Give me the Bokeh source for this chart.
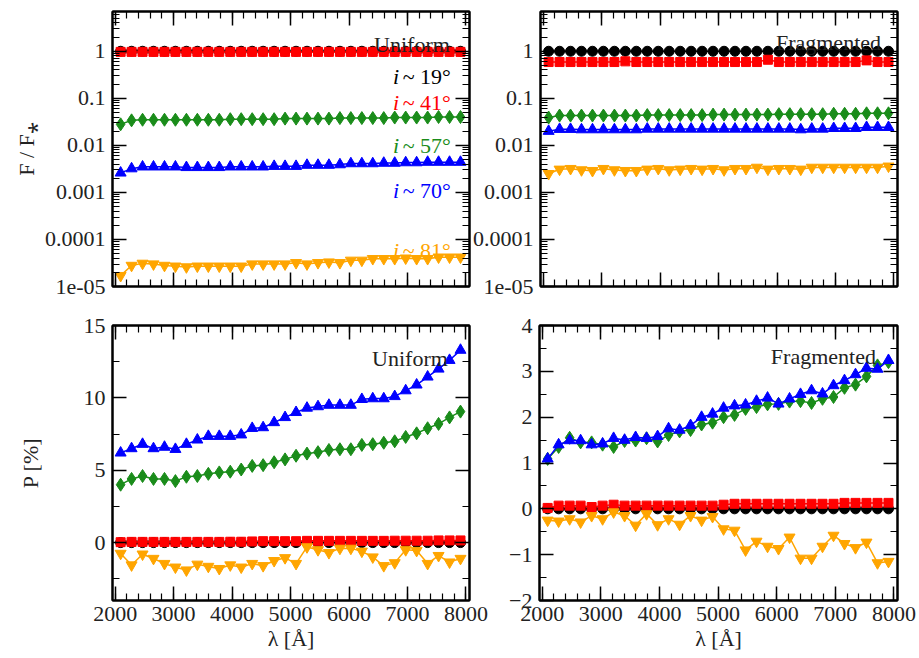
from bokeh.plotting import figure
from bokeh.models import (Range1d, LinearAxis, LogAxis, FixedTicker, SingleIntervalTicker,
                          CustomJSTickFormatter, Label)
from bokeh.layouts import column, row
from bokeh.embed import file_html
from bokeh.resources import INLINE

FONT = "Liberation Serif"

# ---------------- data ----------------
wavelength = [2094, 2281, 2469, 2656, 2844, 3031, 3219, 3406, 3594, 3781, 3969, 4156,
              4344, 4531, 4719, 4906, 5094, 5281, 5469, 5656, 5844, 6031, 6219, 6406,
              6594, 6781, 6969, 7156, 7344, 7531, 7719, 7906]

series_names = ["i~19", "i~41", "i~57", "i~70", "i~81"]
series_colors = ["#000000", "#ff0000", "#1a8c1a", "#0000ff", "#ffa500"]
series_markers = ["circle", "square", "diamond", "triangle", "inverted_triangle"]
angle_labels = ["~ 19°", "~ 41°", "~ 57°", "~ 70°", "~ 81°"]

# Uniform, F/F*
uni_flux_19 = [1.0] * 32
uni_flux_41 = [0.97] * 32
uni_flux_57 = [0.028, 0.034, 0.035, 0.035, 0.035, 0.035, 0.035, 0.035, 0.035, 0.035, 0.036, 0.036,
               0.036, 0.036, 0.036, 0.037, 0.037, 0.037, 0.037, 0.037, 0.038, 0.038, 0.038, 0.038,
               0.038, 0.039, 0.039, 0.039, 0.039, 0.040, 0.040, 0.040]
uni_flux_70 = [0.0026, 0.0032, 0.0035, 0.0035, 0.0035, 0.0035, 0.0034, 0.0034, 0.0034, 0.0034, 0.0035, 0.0035,
               0.0035, 0.0035, 0.0036, 0.0036, 0.0036, 0.0038, 0.0038, 0.0038, 0.0039, 0.0041, 0.0041, 0.0041,
               0.0042, 0.0042, 0.0043, 0.0043, 0.0044, 0.0044, 0.0044, 0.0044]
uni_flux_81 = [1.7e-5, 2.8e-5, 3.1e-5, 3.0e-5, 2.8e-5, 2.7e-5, 2.6e-5, 2.7e-5, 2.7e-5, 2.7e-5, 2.7e-5, 2.7e-5,
               3.0e-5, 3.0e-5, 3.0e-5, 3.0e-5, 3.2e-5, 3.0e-5, 3.2e-5, 3.3e-5, 3.2e-5, 3.6e-5, 3.6e-5, 3.9e-5,
               3.9e-5, 3.9e-5, 4.0e-5, 3.9e-5, 3.9e-5, 4.2e-5, 4.2e-5, 4.2e-5]

# Fragmented, F/F*
frag_flux_19 = [1.0] * 32
frag_flux_41 = [0.59, 0.59, 0.59, 0.59, 0.59, 0.59, 0.59, 0.61, 0.59, 0.59, 0.59, 0.59,
                0.59, 0.59, 0.59, 0.59, 0.59, 0.59, 0.59, 0.59, 0.66, 0.59, 0.59, 0.59,
                0.59, 0.59, 0.59, 0.59, 0.59, 0.64, 0.59, 0.59]
frag_flux_57 = [0.039, 0.043, 0.043, 0.043, 0.043, 0.043, 0.043, 0.043, 0.043, 0.044, 0.044, 0.044,
                0.044, 0.044, 0.044, 0.045, 0.045, 0.045, 0.045, 0.045, 0.045, 0.046, 0.046, 0.046,
                0.046, 0.046, 0.047, 0.047, 0.047, 0.048, 0.048, 0.048]
frag_flux_70 = [0.020, 0.022, 0.022, 0.0216, 0.0216, 0.0216, 0.0216, 0.0216, 0.0216, 0.0223, 0.0223, 0.0223,
                0.0223, 0.0223, 0.0223, 0.0223, 0.0223, 0.0223, 0.0223, 0.0223, 0.0223, 0.0223, 0.0223, 0.0216,
                0.0223, 0.0223, 0.0230, 0.0230, 0.0230, 0.0242, 0.0242, 0.0242]
frag_flux_81 = [0.0025, 0.0031, 0.0032, 0.0030, 0.0029, 0.0032, 0.0030, 0.0029, 0.0029, 0.0031, 0.0032, 0.0030,
                0.0031, 0.0032, 0.0031, 0.0032, 0.0030, 0.0032, 0.0032, 0.0034, 0.0031, 0.0032, 0.0032, 0.0031,
                0.0034, 0.0034, 0.0034, 0.0034, 0.0034, 0.0034, 0.0034, 0.0036]

# Uniform, P [%]
uni_pol_19 = [0.0] * 32
uni_pol_41 = [0.03, 0.05, 0.05, 0.05, 0.05, 0.05, 0.05, 0.05, 0.05, 0.05, 0.06, 0.06,
              0.08, 0.10, 0.10, 0.10, 0.10, 0.12, 0.12, 0.12, 0.12, 0.12, 0.12, 0.12,
              0.12, 0.13, 0.13, 0.13, 0.13, 0.15, 0.15, 0.15]
uni_pol_57 = [4.0, 4.4, 4.6, 4.4, 4.4, 4.25, 4.55, 4.6, 4.75, 4.85, 4.9, 5.05,
              5.3, 5.35, 5.55, 5.75, 6.0, 6.15, 6.25, 6.4, 6.45, 6.45, 6.75, 6.8,
              6.9, 7.0, 7.3, 7.55, 7.9, 8.2, 8.65, 9.05]
uni_pol_70 = [6.2, 6.5, 6.8, 6.5, 6.6, 6.45, 6.8, 7.1, 7.35, 7.35, 7.35, 7.45,
              7.9, 7.95, 8.3, 8.65, 9.0, 9.3, 9.4, 9.5, 9.5, 9.5, 9.9, 9.95,
              9.95, 10.1, 10.5, 10.9, 11.45, 12.0, 12.6, 13.3]
uni_pol_81 = [-0.75, -1.55, -0.8, -1.1, -1.45, -1.7, -1.9, -1.5, -1.65, -1.8, -1.55, -1.7,
              -1.45, -1.6, -1.25, -1.05, -1.45, -0.3, -0.5, -0.7, -0.4, -0.4, -0.6, -1.0,
              -1.6, -1.4, -0.5, -0.55, -1.45, -0.9, -1.35, -1.1]

# Fragmented, P [%]
frag_pol_19 = [0.0] * 32
frag_pol_41 = [0.02, 0.07, 0.07, 0.07, 0.04, 0.07, 0.09, 0.07, 0.07, 0.07, 0.07, 0.07,
               0.07, 0.07, 0.07, 0.07, 0.09, 0.11, 0.11, 0.11, 0.11, 0.11, 0.11, 0.11,
               0.11, 0.11, 0.11, 0.13, 0.13, 0.13, 0.13, 0.13]
frag_pol_57 = [1.09, 1.35, 1.55, 1.45, 1.45, 1.4, 1.35, 1.48, 1.49, 1.54, 1.47, 1.61,
               1.69, 1.72, 1.84, 1.88, 2.0, 2.05, 2.18, 2.22, 2.28, 2.29, 2.34, 2.35,
               2.31, 2.4, 2.44, 2.64, 2.71, 2.89, 3.13, 3.2]
frag_pol_70 = [1.09, 1.4, 1.49, 1.49, 1.4, 1.42, 1.54, 1.5, 1.56, 1.54, 1.58, 1.75,
               1.72, 1.82, 2.0, 2.07, 2.2, 2.25, 2.27, 2.35, 2.42, 2.29, 2.4, 2.5,
               2.58, 2.51, 2.69, 2.8, 2.93, 3.07, 3.05, 3.24]
frag_pol_81 = [-0.25, -0.27, -0.22, -0.29, -0.15, -0.22, -0.07, -0.15, -0.36, -0.11, -0.35, -0.22,
               -0.34, -0.15, -0.25, -0.17, -0.44, -0.47, -0.9, -0.71, -0.82, -0.87, -0.62, -1.08,
               -1.08, -0.82, -0.58, -0.76, -0.85, -0.73, -1.18, -1.15]

flux_tick_values = [1e-5, 1e-4, 1e-3, 1e-2, 1e-1, 1.0]
flux_tick_labels = ["1e-05", "0.0001", "0.001", "0.01", "0.1", "1"]
flux_minor = [m * 10.0 ** e for e in range(-5, 1) for m in range(2, 10)]

X_RANGE = (1955, 8060)
TXT = "#222222"
FS = "22px"

marker_sizes = {"circle": 10, "square": 9, "diamond": 13, "triangle": 11, "inverted_triangle": 11}


def style_axis(ax, labels):
    ax.major_tick_in = 14
    ax.major_tick_out = 0
    ax.minor_tick_in = 7
    ax.minor_tick_out = 0
    ax.major_tick_line_width = 1.5
    ax.minor_tick_line_width = 1.2
    ax.major_tick_line_color = "black"
    ax.minor_tick_line_color = "black"
    ax.axis_line_width = 2
    ax.axis_line_color = "black"
    ax.axis_label_text_font = FONT
    ax.axis_label_text_font_size = FS
    ax.axis_label_text_font_style = "normal"
    ax.axis_label_text_color = TXT
    if labels:
        ax.major_label_text_font = FONT
        ax.major_label_text_font_size = FS
        ax.major_label_text_color = TXT
    else:
        ax.major_label_text_font_size = "1px"
        ax.major_label_text_color = None
        ax.major_label_standoff = 0


def make_fig(width, height, log, yr, borders, x_labels, ytick, yfmt=None, styles=None):
    left, right, top, bottom = borders
    kw = {}
    if styles:
        kw["styles"] = styles
    p = figure(width=width, height=height, x_range=Range1d(*X_RANGE), y_range=Range1d(*yr),
               y_axis_type="log" if log else "linear", output_backend="svg",
               toolbar_location=None, min_border_left=left, min_border_right=right,
               min_border_top=top, min_border_bottom=bottom, **kw)
    p.xgrid.visible = False
    p.ygrid.visible = False
    p.outline_line_color = "black"
    p.outline_line_width = 2
    p.background_fill_color = "white"
    p.border_fill_color = None if styles else "white"

    bx = p.below[0]
    bx.ticker = SingleIntervalTicker(interval=1000, num_minor_ticks=5)
    style_axis(bx, x_labels)
    if x_labels:
        bx.major_label_standoff = 6

    ly = p.left[0]
    ly.ticker = ytick
    if yfmt is not None:
        ly.formatter = yfmt
    style_axis(ly, True)
    ly.major_label_standoff = 7

    top_ax = LinearAxis(ticker=SingleIntervalTicker(interval=1000, num_minor_ticks=5))
    style_axis(top_ax, False)
    p.add_layout(top_ax, "above")
    right_ax = LogAxis(ticker=ytick) if log else LinearAxis(ticker=ytick)
    style_axis(right_ax, False)
    p.add_layout(right_ax, "right")
    return p


def draw(p, series):
    for ys, c, m in zip(series, series_colors, series_markers):
        p.line(wavelength, ys, line_color=c, line_width=1.5)
        p.scatter(wavelength, ys, marker=m, size=marker_sizes[m], fill_color=c, line_color=c)


def txt(p, text, x, y, color=TXT, style="normal"):
    p.add_layout(Label(x=x, y=y, text=text, text_font=FONT, text_font_size=FS,
                       text_color=color, text_align="right", text_baseline="alphabetic",
                       text_font_style=style))


def log_fmt():
    return CustomJSTickFormatter(args=dict(vals=flux_tick_values, labs=flux_tick_labels), code="""
        for (let i = 0; i < vals.length; i++) {
            if (Math.abs(Math.log10(tick) - Math.log10(vals[i])) < 1e-6) return labs[i];
        }
        return "";
    """)


def flux_ticker():
    return FixedTicker(ticks=flux_tick_values, minor_ticks=flux_minor)


W_L, W_R = 491, 448
H_T, H_B = 300, 358
SHIFT = {"margin-left": "-22px"}

p1 = make_fig(W_L, H_T, True, (1e-5, 7.0), (112, 22, 11, 14), False, flux_ticker(), log_fmt())
p2 = make_fig(W_R, H_T, True, (1e-5, 7.0), (70, 20, 11, 14), False, flux_ticker(), log_fmt(),
              styles=SHIFT)
p3 = make_fig(W_L, H_B, False, (-4, 15), (112, 22, 25, 58), True,
              SingleIntervalTicker(interval=5, num_minor_ticks=2))
p4 = make_fig(W_R, H_B, False, (-2, 4), (70, 20, 25, 58), True,
              SingleIntervalTicker(interval=1, num_minor_ticks=2), styles=SHIFT)

draw(p1, [uni_flux_19, uni_flux_41, uni_flux_57, uni_flux_70, uni_flux_81])
draw(p2, [frag_flux_19, frag_flux_41, frag_flux_57, frag_flux_70, frag_flux_81])
draw(p3, [uni_pol_19, uni_pol_41, uni_pol_57, uni_pol_70, uni_pol_81])
draw(p4, [frag_pol_19, frag_pol_41, frag_pol_57, frag_pol_70, frag_pol_81])

# axis titles (only on the primary left / below axes)
p1.left[0].axis_label = "F / F\u204e"
p1.left[0].axis_label_standoff = 3
p3.left[0].axis_label = "P [%]"
p3.left[0].axis_label_standoff = 38
for p in (p3, p4):
    p.below[0].axis_label = "λ [Å]"
    p.below[0].axis_label_standoff = 2

# panel titles
txt(p1, "Uniform", 7724, 1.42)
txt(p2, "Fragmented", 7778, 1.5)
txt(p3, "Uniform", 7690, 12.72)
txt(p4, "Fragmented", 7692, 3.32)

# inclination labels
label_y = [0.284, 0.0834, 0.0100, 0.00110, 5.8e-5]
for lab, yv, c in zip(angle_labels, label_y, series_colors):
    txt(p1, lab, 7741, yv, color=c)
    txt(p1, "i", 6855, yv, color=c, style="italic")

layout = column(row(p1, p2), row(p3, p4))

open("out.html", "w").write(file_html(layout, INLINE))
